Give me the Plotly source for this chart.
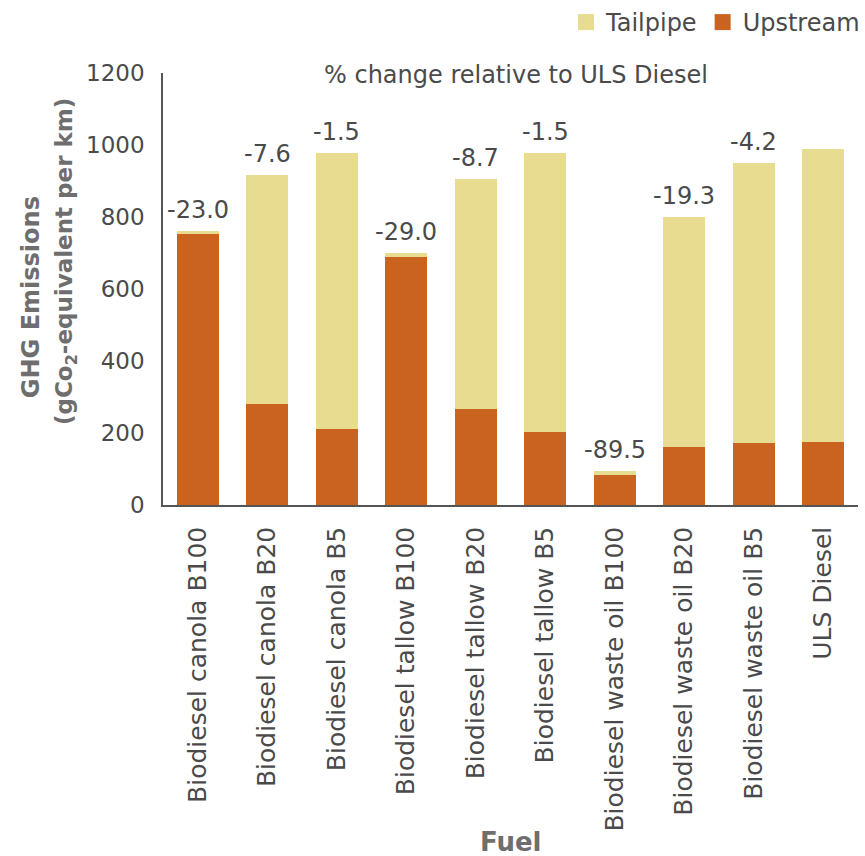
import plotly.graph_objects as go

# Fuel types on the x axis
fuels = [
    "Biodiesel canola B100",
    "Biodiesel canola B20",
    "Biodiesel canola B5",
    "Biodiesel tallow B100",
    "Biodiesel tallow B20",
    "Biodiesel tallow B5",
    "Biodiesel waste oil B100",
    "Biodiesel waste oil B20",
    "Biodiesel waste oil B5",
    "ULS Diesel",
]

# GHG emissions (gCO2-equivalent per km)
upstream = [752, 281, 212, 690, 267, 204, 82, 160, 173, 175]
tailpipe = [10, 637, 766, 10, 639, 774, 12, 640, 777, 815]

# % change relative to ULS Diesel (no label for the reference fuel)
pct_change = ["-23.0", "-7.6", "-1.5", "-29.0", "-8.7", "-1.5", "-89.5", "-19.3", "-4.2", ""]

y_ticks = [0, 200, 400, 600, 800, 1000, 1200]

UPSTREAM_COLOR = "#C9631F"
TAILPIPE_COLOR = "#E7DC8F"
FONT = "DejaVu Sans"
TEXT_COLOR = "#4a4a4a"
TITLE_COLOR = "#6e6e6e"
AXIS_COLOR = "#555555"

fig = go.Figure()

fig.add_trace(go.Bar(
    x=fuels, y=upstream, name="Upstream",
    marker=dict(color=UPSTREAM_COLOR, line=dict(width=0)),
    showlegend=False,
))
fig.add_trace(go.Bar(
    x=fuels, y=tailpipe, name="Tailpipe",
    marker=dict(color=TAILPIPE_COLOR, line=dict(width=0)),
    showlegend=False,
))

# Legend entries with larger square swatches
fig.add_trace(go.Scatter(
    x=[None], y=[None], mode="markers", name="Tailpipe",
    marker=dict(symbol="square", size=18, color=TAILPIPE_COLOR),
))
fig.add_trace(go.Scatter(
    x=[None], y=[None], mode="markers", name="Upstream",
    marker=dict(symbol="square", size=18, color=UPSTREAM_COLOR),
))

# Percentage labels above each stacked bar
for fuel, up, tp, label in zip(fuels, upstream, tailpipe, pct_change):
    if label:
        fig.add_annotation(
            x=fuel, y=up + tp, text=label, showarrow=False,
            yanchor="bottom", yshift=5,
            font=dict(family=FONT, size=24, color=TEXT_COLOR),
        )

fig.add_annotation(
    xref="paper", yref="paper", x=0.5, y=1.0,
    text="% change relative to ULS Diesel", showarrow=False,
    xanchor="center", yanchor="middle", xshift=5, yshift=-2,
    font=dict(family=FONT, size=24, color=TEXT_COLOR),
)

# Two-line y-axis title
fig.add_annotation(
    xref="paper", yref="paper", x=0, y=0.481, xshift=-132,
    text="<b>GHG Emissions</b>", showarrow=False, textangle=-90,
    xanchor="center", yanchor="middle",
    font=dict(family=FONT, size=24, color=TITLE_COLOR),
)
fig.add_annotation(
    xref="paper", yref="paper", x=0, y=0.5625, xshift=-97,
    text="<b>(gCo<sub>2</sub>-equivalent per km)</b>", showarrow=False, textangle=-90,
    xanchor="center", yanchor="middle",
    font=dict(family=FONT, size=23, color=TITLE_COLOR),
)

fig.add_annotation(
    xref="paper", yref="paper", x=0.5, y=0, yshift=-337,
    text="<b>Fuel</b>", showarrow=False,
    xanchor="center", yanchor="middle",
    font=dict(family=FONT, size=26, color=TITLE_COLOR),
)

fig.update_layout(
    width=865, height=856,
    barmode="stack", bargap=0.39,
    plot_bgcolor="white", paper_bgcolor="white",
    margin=dict(l=163, r=7, t=73, b=351),
    font=dict(family=FONT, color=TEXT_COLOR),
    legend=dict(
        orientation="h", xref="container", yref="container",
        x=1.0, xanchor="right", y=1.0, yanchor="top",
        traceorder="normal",
        font=dict(family=FONT, size=24, color=TEXT_COLOR),
        itemwidth=30, tracegroupgap=0,
        bgcolor="rgba(0,0,0,0)",
    ),
    xaxis=dict(
        tickangle=-90, tickfont=dict(family=FONT, size=25, color=TEXT_COLOR),
        showline=True, linecolor=AXIS_COLOR, linewidth=1.5,
        ticks="", showgrid=False, ticklabelstandoff=10,
        range=[-0.5, 9.5],
    ),
    yaxis=dict(
        range=[0, 1200], tickvals=y_ticks,
        tickfont=dict(family=FONT, size=23, color=TEXT_COLOR),
        showline=True, linecolor=AXIS_COLOR, linewidth=1.5,
        ticks="", showgrid=False, zeroline=False, ticklabelstandoff=12,
    ),
)

fig.write_html("out.html")
